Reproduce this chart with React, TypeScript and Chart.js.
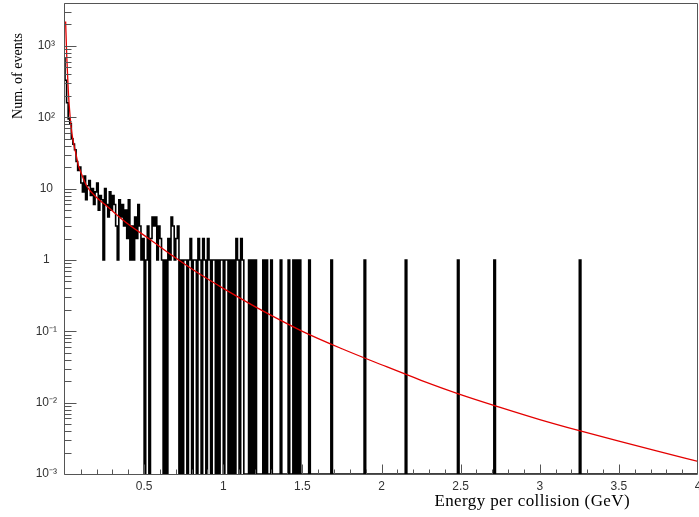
import React, { useEffect, useRef } from "react";
import { Chart, registerables } from "chart.js";

Chart.register(...registerables);

// ---- data ----
const BIN_WIDTH = 0.01; // GeV
const N_BINS = 400; // 0 .. 4 GeV

// bin contents of the first 160 bins (0 .. 1.6 GeV)
const LOW_COUNTS = [
  700, 330, 160, 95, 82, 50, 42, 35, 24, 18,
  20, 12, 9, 15, 7, 11, 13, 8, 10, 6,
  9, 12, 5, 8, 7, 1, 10, 6, 4, 9,
  5, 8, 6, 3, 1, 7, 4, 6, 3, 5,
  2, 7, 1, 3, 1, 4, 2, 6, 3, 1,
  2, 0, 1, 3, 0, 2, 4, 3, 4, 1,
  3, 2, 1, 0, 1, 0, 2, 1, 4, 3,
  1, 2, 3, 0, 1, 0, 1, 1, 0, 1,
  2, 0, 1, 1, 0, 2, 1, 0, 2, 1,
  0, 2, 1, 0, 1, 1, 0, 1, 0, 1,
  1, 0, 1, 1, 0, 1, 0, 1, 0, 2,
  1, 0, 2, 1, 0, 0, 0, 1, 0, 1,
  0, 1, 0, 0, 0, 0, 1, 0, 1, 0,
  0, 1, 0, 0, 0, 0, 0, 1, 0, 0,
  0, 0, 1, 0, 0, 1, 0, 1, 0, 1,
  0, 0, 0, 0, 0, 1, 0, 0, 0, 0,
];
// isolated single events at high energy (bin indices, 1 event each)
const ISOLATED_EVENT_BINS = [169, 190, 216, 249, 272, 326];

// red fit curve
const FIT_X = [0.004, 0.011, 0.021, 0.032, 0.043, 0.053, 0.07, 0.085, 0.1, 0.138, 0.2, 0.264, 0.39, 0.537, 0.684, 0.874, 1.0, 1.25, 1.5, 1.75, 2.0, 2.25, 2.5, 2.75, 3.0, 3.25, 3.5, 3.75, 4.0];
const FIT_Y = [2200, 720, 230, 104, 61, 45, 30, 21, 17, 10.8, 7.5, 5.7, 3.3, 1.94, 1.13, 0.59, 0.4, 0.193, 0.1, 0.057, 0.034, 0.0206, 0.013, 0.0086, 0.0058, 0.00405, 0.00288, 0.00207, 0.0015];

const X_MIN = 0;
const X_MAX = 4;
const Y_MIN = 1e-3;
const Y_MAX = 4000;
const Y_DECADES = [1e-3, 1e-2, 1e-1, 1, 10, 100, 1000];
const Y_TICK_LABELS = ["10\u207B\u00B3", "10\u207B\u00B2", "10\u207B\u00B9", "1", "10", "10\u00B2", "10\u00B3"];
const X_TITLE = "Energy per collision (GeV)";
const Y_TITLE = "Num. of events";

const TICK_FONT = '"Liberation Sans", Arial, Helvetica, sans-serif';
const TITLE_FONT = '"Liberation Serif", "Times New Roman", serif';

const rootFrame = {
  id: "rootFrame",
  afterDraw(chart: any) {
    const { ctx, chartArea: a, scales } = chart;
    const xs = scales.x;
    const ys = scales.y;
    ctx.save();
    ctx.strokeStyle = "#555";
    ctx.lineWidth = 1;
    const L = Math.round(a.left) - 0.5;
    const R = Math.round(a.right) - 0.5;
    const T = Math.round(a.top) + 0.5;
    const B = Math.round(a.bottom) + 0.5;
    ctx.beginPath();
    ctx.rect(L, T, R - L, B - T);
    ctx.stroke();

    // y ticks (inward)
    ctx.beginPath();
    for (let e = -3; e <= 3; e++) {
      for (let k = 1; k <= 9; k++) {
        const v = k * Math.pow(10, e);
        if (v < Y_MIN || v > Y_MAX) continue;
        const py = Math.round(ys.getPixelForValue(v)) + 0.5;
        const len = k === 1 ? 12 : 7;
        ctx.moveTo(L, py);
        ctx.lineTo(L + len, py);
      }
    }
    // x ticks (inward)
    for (let i = 1; i < 40; i++) {
      const v = i / 10;
      const px = Math.round(xs.getPixelForValue(v)) + 0.5;
      const len = i % 5 === 0 ? 10 : 5;
      ctx.moveTo(px, B);
      ctx.lineTo(px, B - len);
    }
    ctx.stroke();

    // titles
    ctx.fillStyle = "#000";
    ctx.font = `17px ${TITLE_FONT}`;
    try {
      (ctx as any).letterSpacing = "0.4px";
    } catch (e) {}
    ctx.textAlign = "right";
    ctx.textBaseline = "alphabetic";
    ctx.fillText(X_TITLE, 630, 506);
    try {
      (ctx as any).letterSpacing = "0px";
    } catch (e) {}

    ctx.translate(18, 33);
    ctx.rotate(-Math.PI / 2);
    ctx.font = `14px ${TITLE_FONT}`;
    ctx.textAlign = "right";
    ctx.textBaseline = "middle";
    ctx.fillText(Y_TITLE, 0, 0);
    ctx.restore();
  },
};

export default function App() {
  const ref = useRef<HTMLCanvasElement | null>(null);

  useEffect(() => {
    const canvas = ref.current;
    if (!canvas) return;

    const counts: number[] = Array.from({ length: N_BINS }, (_, i) =>
      i < LOW_COUNTS.length ? LOW_COUNTS[i] : 0
    );
    ISOLATED_EVENT_BINS.forEach((b) => {
      counts[b] = 1;
    });
    const histPoints = [];
    for (let i = 0; i <= N_BINS; i++) {
      const c = counts[Math.min(i, N_BINS - 1)];
      histPoints.push({ x: i * BIN_WIDTH, y: c > 0 ? c : Y_MIN });
    }
    const fitPoints = FIT_X.map((x, i) => ({ x, y: FIT_Y[i] }));

    const chart = new Chart(canvas, {
      type: "line",
      data: {
        datasets: [
          {
            label: "fit",
            data: fitPoints,
            borderColor: "rgb(228,0,0)",
            borderWidth: 1.3,
            pointRadius: 0,
            cubicInterpolationMode: "monotone",
            fill: false,
            order: 0,
          },
          {
            label: "events",
            data: histPoints,
            borderColor: "#000",
            borderWidth: 1.6,
            pointRadius: 0,
            stepped: "after",
            fill: false,
            order: 1,
          },
        ],
      },
      options: {
        animation: false,
        responsive: false,
        devicePixelRatio: 1,
        layout: { padding: { top: 3, right: 1, left: 0, bottom: 0 } },
        plugins: {
          legend: { display: false },
          tooltip: { enabled: false },
          title: { display: false },
        },
        scales: {
          x: {
            type: "linear",
            min: X_MIN,
            max: X_MAX,
            grid: { display: false, drawTicks: false },
            border: { display: false },
            ticks: {
              stepSize: 0.5,
              autoSkip: false,
              maxRotation: 0,
              padding: 5,
              color: "#333",
              font: { family: TICK_FONT, size: 12 },
              callback: (v: any) => (Number(v) === 0 ? "" : String(v)),
            },
            afterFit: (s: any) => {
              s.height = 43;
              s.paddingLeft = 0;
              s.paddingRight = 0;
            },
          },
          y: {
            type: "logarithmic",
            min: Y_MIN,
            max: Y_MAX,
            grid: { display: false, drawTicks: false },
            border: { display: false },
            afterBuildTicks: (s: any) => {
              s.ticks = Y_DECADES.map((v) => ({ value: v }));
            },
            ticks: {
              autoSkip: false,
              padding: 8,
              crossAlign: "center",
              color: "#333",
              font: { family: TICK_FONT, size: 12 },
              callback: (_v: any, i: number) => Y_TICK_LABELS[i] ?? "",
            },
            afterFit: (s: any) => {
              s.width = 65;
              s.paddingTop = 0;
              s.paddingBottom = 0;
            },
          },
        },
      } as any,
      plugins: [rootFrame],
    });

    return () => chart.destroy();
  }, []);

  return (
    <div
      style={{
        position: "absolute",
        left: 0,
        top: 0,
        width: 699,
        height: 517,
        background: "#fff",
      }}
    >
      <canvas ref={ref} width={699} height={517} style={{ display: "block" }} />
    </div>
  );
}
